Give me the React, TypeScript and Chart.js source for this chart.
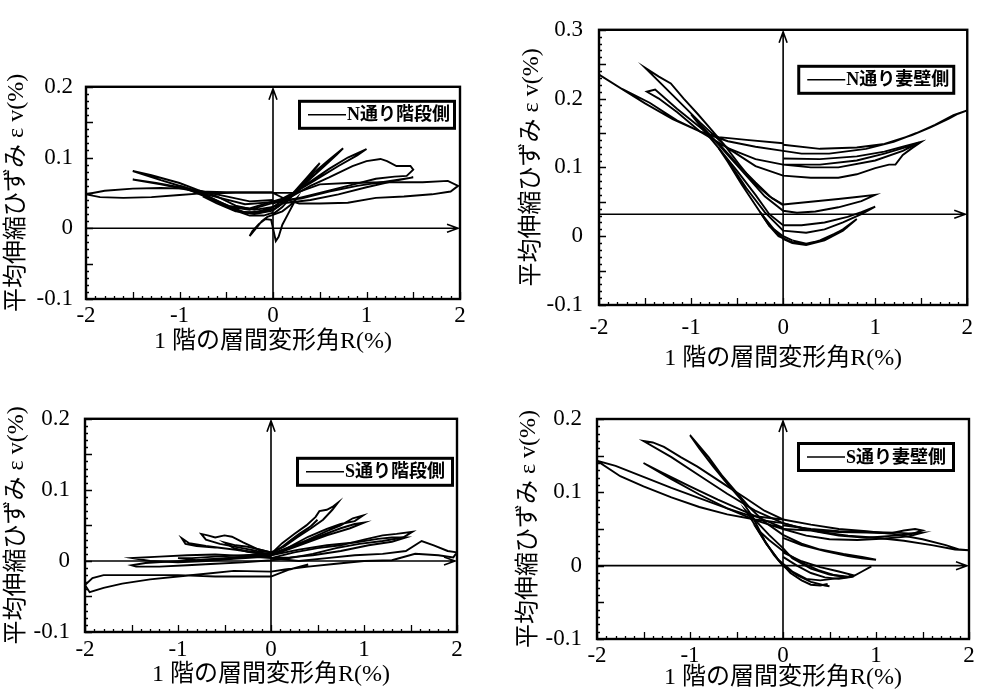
import React, { useEffect, useRef } from 'react';
import { Chart, registerables } from 'chart.js';

Chart.register(...registerables);

type Pt = [number, number];

// ---------- tick labels ----------
const X_TICKS = [-2, -1, 0, 1, 2];
const Y_TICKS_02 = [-0.1, 0, 0.1, 0.2];
const Y_TICKS_03 = [-0.1, 0, 0.1, 0.2, 0.3];

const X_TITLE = '1 階の層間変形角R(%)';
const Y_TITLE = '平均伸縮ひずみ ε v(%)';

// ---------- N通り階段側 ----------
const N_STAIR_R025: Pt[] = [[0.0,0.0],[0.03,-0.018],[0.06,-0.012],[0.1,0.005],[0.16,0.02],[0.22,0.035],[0.25,0.042],[0.18,0.032],[0.1,0.024],[0.02,0.02],[-0.06,0.016],[-0.12,0.01],[-0.18,0.0],[-0.25,-0.011],[-0.22,-0.004],[-0.15,0.006],[-0.08,0.013],[-0.02,0.012],[0.0,0.0]];
const N_STAIR_R05: Pt[] = [[0.0,0.02],[0.1,0.03],[0.2,0.045],[0.3,0.06],[0.4,0.075],[0.5,0.092],[0.45,0.085],[0.35,0.07],[0.25,0.055],[0.15,0.04],[0.05,0.03],[0.0,0.027],[-0.15,0.022],[-0.3,0.022],[-0.45,0.028],[-0.5,0.032],[-0.4,0.025],[-0.25,0.018],[-0.1,0.018],[0.0,0.022]];
const N_STAIR_R075: Pt[] = [[0.0,0.025],[0.15,0.04],[0.3,0.06],[0.45,0.08],[0.6,0.097],[0.75,0.113],[0.68,0.104],[0.55,0.088],[0.4,0.07],[0.25,0.05],[0.1,0.035],[0.0,0.03],[-0.2,0.022],[-0.4,0.024],[-0.6,0.035],[-0.75,0.045],[-0.6,0.038],[-0.4,0.025],[-0.2,0.02],[0.0,0.025]];
const N_STAIR_R1: Pt[] = [[0.0,0.03],[0.2,0.048],[0.4,0.066],[0.6,0.084],[0.8,0.1],[1.0,0.112],[0.9,0.103],[0.7,0.088],[0.5,0.072],[0.3,0.056],[0.1,0.042],[0.0,0.038],[-0.25,0.028],[-0.5,0.032],[-0.75,0.046],[-1.0,0.06],[-0.8,0.052],[-0.55,0.036],[-0.3,0.022],[-0.1,0.024],[0.0,0.03]];
const N_STAIR_R15A: Pt[] = [[0.0,0.035],[0.2,0.045],[0.4,0.06],[0.6,0.072],[0.85,0.088],[1.0,0.095],[1.15,0.098],[1.22,0.095],[1.32,0.088],[1.47,0.088],[1.5,0.083],[1.43,0.074],[1.3,0.073],[1.1,0.07],[0.8,0.06],[0.5,0.05],[0.25,0.042],[0.0,0.036],[-0.25,0.026],[-0.45,0.03],[-0.7,0.045],[-0.95,0.058],[-1.2,0.068],[-1.5,0.081],[-1.3,0.075],[-1.0,0.064],[-0.8,0.054],[-0.6,0.045],[-0.4,0.032],[-0.2,0.026],[0.0,0.03]];
const N_STAIR_R15B: Pt[] = [[0.0,0.038],[0.3,0.042],[0.6,0.052],[0.9,0.06],[1.2,0.066],[1.5,0.072],[1.3,0.067],[1.0,0.058],[0.7,0.048],[0.4,0.04],[0.15,0.036],[0.0,0.037],[-0.3,0.034],[-0.6,0.044],[-0.9,0.054],[-1.2,0.062],[-1.5,0.069],[-1.25,0.064],[-1.0,0.058],[-0.75,0.052],[-0.5,0.045],[-0.25,0.038],[0.0,0.04]];
const N_STAIR_R2: Pt[] = [[0.0,0.05],[0.25,0.05],[0.5,0.062],[0.8,0.064],[1.2,0.065],[1.6,0.065],[1.87,0.067],[1.98,0.06],[1.9,0.052],[1.7,0.048],[1.4,0.045],[1.1,0.043],[0.8,0.036],[0.5,0.035],[0.28,0.035],[0.15,0.04],[0.0,0.05],[-0.4,0.05],[-0.8,0.049],[-1.0,0.047],[-1.3,0.044],[-1.6,0.043],[-1.85,0.044],[-2.0,0.048],[-1.8,0.053],[-1.5,0.056],[-1.2,0.057],[-0.95,0.056],[-0.8,0.052],[-0.5,0.051],[0.0,0.051]];

// ---------- N通り妻壁側 ----------
const N_WALL_AXIS_LEVEL = 0.032;
const N_WALL_R2: Pt[] = [[0.0,0.133],[0.4,0.127],[0.8,0.129],[1.1,0.134],[1.4,0.147],[1.6,0.158],[1.8,0.171],[1.9,0.178],[2.0,0.183],[1.85,0.176],[1.65,0.162],[1.45,0.15],[1.2,0.137],[0.9,0.127],[0.5,0.12],[0.2,0.12],[0.0,0.124],[-0.3,0.13],[-0.6,0.138],[-0.9,0.152],[-1.2,0.17],[-1.5,0.193],[-1.8,0.218],[-2.0,0.235],[-1.75,0.214],[-1.45,0.194],[-1.15,0.168],[-0.9,0.152],[-0.7,0.144],[-0.4,0.14],[0.0,0.135]];
const N_WALL_R15A: Pt[] = [[0.0,0.113],[0.4,0.112],[0.8,0.116],[1.1,0.123],[1.3,0.13],[1.5,0.137],[1.4,0.128],[1.3,0.118],[1.22,0.104],[1.15,0.104],[1.0,0.099],[0.8,0.09],[0.6,0.085],[0.3,0.085],[0.0,0.088],[-0.3,0.102],[-0.6,0.128],[-0.9,0.165],[-1.2,0.205],[-1.5,0.245],[-1.35,0.232],[-1.22,0.222],[-1.08,0.2],[-0.93,0.178],[-0.78,0.155],[-0.64,0.133],[-0.48,0.105],[-0.32,0.078],[-0.15,0.058],[0.0,0.046]];
const N_WALL_R15B: Pt[] = [[0.0,0.104],[0.4,0.104],[0.8,0.11],[1.1,0.12],[1.3,0.128],[1.48,0.136],[1.3,0.124],[1.0,0.11],[0.6,0.1],[0.3,0.1],[0.0,0.104],[-0.3,0.112],[-0.6,0.128],[-0.9,0.152],[-1.15,0.18],[-1.35,0.2],[-1.48,0.21],[-1.39,0.213],[-1.15,0.185],[-0.9,0.158],[-0.7,0.135],[-0.5,0.105],[-0.3,0.078],[-0.12,0.055],[0.0,0.045]];
const N_WALL_R1A: Pt[] = [[0.0,0.046],[0.3,0.05],[0.6,0.054],[0.8,0.057],[1.0,0.06],[0.85,0.051],[0.6,0.042],[0.35,0.036],[0.15,0.034],[0.0,0.037],[-0.2,0.058],[-0.4,0.088],[-0.6,0.118],[-0.8,0.148],[-1.0,0.177],[-0.85,0.152],[-0.7,0.128],[-0.5,0.095],[-0.3,0.06],[-0.15,0.032],[0.0,0.016]];
const N_WALL_R1B: Pt[] = [[0.0,0.016],[0.2,0.016],[0.45,0.02],[0.7,0.028],[0.85,0.035],[1.0,0.043],[0.85,0.032],[0.65,0.02],[0.45,0.01],[0.25,0.005],[0.0,0.008],[-0.2,0.035],[-0.4,0.07],[-0.55,0.1],[-0.7,0.128],[-0.6,0.108],[-0.45,0.075],[-0.3,0.045],[-0.15,0.015],[0.0,0.0],[0.1,-0.006]];
const N_WALL_R05: Pt[] = [[0.1,-0.006],[0.25,-0.011],[0.45,-0.005],[0.65,0.01],[0.8,0.025],[0.65,0.008],[0.45,-0.006],[0.25,-0.013],[0.1,-0.01],[0.0,-0.004],[-0.1,0.01],[-0.25,0.035],[-0.15,0.015],[-0.05,0.0],[0.1,-0.009],[0.25,-0.012],[0.4,-0.006],[0.55,0.003],[0.7,0.013]];

// ---------- S通り階段側 ----------
const S_STAIR_R2: Pt[] = [[0.0,0.004],[0.3,0.0],[0.6,0.004],[0.9,0.008],[1.2,0.01],[1.45,0.014],[1.62,0.028],[1.75,0.022],[1.9,0.014],[2.0,0.012],[1.96,0.005],[1.8,0.008],[1.55,0.01],[1.3,0.001],[1.0,0.0],[0.7,-0.004],[0.4,-0.008],[0.15,-0.012],[0.0,-0.015],[-0.4,-0.014],[-0.7,-0.018],[-1.0,-0.022],[-1.3,-0.026],[-1.6,-0.032],[-1.8,-0.038],[-1.95,-0.044],[-2.0,-0.034],[-1.92,-0.024],[-1.8,-0.02],[-1.4,-0.02],[-1.0,-0.02],[-0.6,-0.022],[-0.3,-0.022],[0.0,-0.022],[0.2,-0.012],[0.4,-0.005]];
const S_STAIR_R15A: Pt[] = [[0.0,0.004],[0.25,0.012],[0.5,0.018],[0.75,0.022],[1.0,0.03],[1.2,0.036],[1.35,0.038],[1.52,0.041],[1.42,0.033],[1.2,0.028],[0.95,0.024],[0.7,0.018],[0.45,0.01],[0.2,0.004],[0.0,0.001],[-0.3,-0.002],[-0.6,-0.004],[-0.9,-0.006],[-1.2,-0.008],[-1.45,-0.008],[-1.5,-0.006],[-1.35,-0.003],[-1.1,-0.001],[-0.8,0.001],[-0.5,0.004],[-0.2,0.006],[0.0,0.008]];
const S_STAIR_R15B: Pt[] = [[0.0,0.008],[0.3,0.016],[0.6,0.022],[0.9,0.026],[1.15,0.031],[1.3,0.033],[1.45,0.033],[1.3,0.027],[1.05,0.022],[0.75,0.014],[0.45,0.008],[0.2,0.005],[0.0,0.004],[-0.3,0.007],[-0.6,0.009],[-0.9,0.008],[-1.2,0.006],[-1.49,0.004],[-1.3,0.0],[-1.0,-0.002],[-0.7,0.0],[-0.4,0.003],[-0.15,0.005],[0.0,0.006]];
const S_STAIR_R1A: Pt[] = [[0.0,0.008],[0.2,0.018],[0.4,0.03],[0.6,0.042],[0.75,0.05],[0.88,0.06],[0.99,0.064],[0.9,0.056],[0.75,0.052],[0.6,0.045],[0.4,0.034],[0.2,0.02],[0.05,0.01],[0.0,0.008],[-0.2,0.012],[-0.45,0.017],[-0.7,0.021],[-0.88,0.025],[-0.96,0.032],[-0.92,0.024],[-0.8,0.021],[-0.6,0.019],[-0.4,0.016],[-0.2,0.013],[0.0,0.01]];
const S_STAIR_R1B: Pt[] = [[0.0,0.01],[0.25,0.022],[0.5,0.034],[0.75,0.046],[0.9,0.052],[1.0,0.054],[0.85,0.046],[0.6,0.036],[0.35,0.024],[0.1,0.012],[0.0,0.01],[-0.3,0.008],[-0.6,0.006],[-0.85,0.004],[-1.0,0.004],[-0.8,0.001],[-0.5,0.003],[-0.2,0.006],[0.0,0.008]];
const S_STAIR_R075: Pt[] = [[0.0,0.01],[0.12,0.025],[0.25,0.038],[0.38,0.05],[0.48,0.062],[0.52,0.07],[0.6,0.072],[0.66,0.076],[0.72,0.082],[0.66,0.072],[0.56,0.058],[0.42,0.045],[0.28,0.033],[0.14,0.02],[0.0,0.012],[-0.15,0.017],[-0.3,0.026],[-0.42,0.034],[-0.5,0.036],[-0.6,0.033],[-0.68,0.036],[-0.75,0.038],[-0.7,0.03],[-0.55,0.024],[-0.35,0.019],[-0.15,0.014],[0.0,0.012]];
const S_STAIR_R05: Pt[] = [[0.0,0.01],[0.1,0.018],[0.2,0.028],[0.3,0.038],[0.42,0.048],[0.5,0.058],[0.44,0.05],[0.32,0.038],[0.18,0.025],[0.05,0.014],[0.0,0.012],[-0.12,0.016],[-0.25,0.02],[-0.38,0.022],[-0.5,0.026],[-0.4,0.018],[-0.25,0.013],[-0.1,0.01],[0.0,0.009]];

// ---------- S通り妻壁側 ----------
const S_WALL_R2: Pt[] = [[0.0,0.063],[0.3,0.056],[0.6,0.05],[0.9,0.047],[1.2,0.043],[1.5,0.036],[1.75,0.028],[1.9,0.022],[2.0,0.021],[1.85,0.022],[1.6,0.028],[1.3,0.034],[1.0,0.038],[0.7,0.041],[0.4,0.046],[0.15,0.053],[0.0,0.058],[-0.3,0.063],[-0.6,0.07],[-0.9,0.08],[-1.2,0.093],[-1.5,0.108],[-1.75,0.122],[-2.0,0.143],[-1.8,0.136],[-1.5,0.121],[-1.2,0.106],[-0.9,0.092],[-0.6,0.078],[-0.35,0.068],[0.0,0.063]];
const S_WALL_R15A: Pt[] = [[0.0,0.05],[0.3,0.048],[0.6,0.046],[0.9,0.045],[1.15,0.044],[1.3,0.048],[1.42,0.05],[1.5,0.048],[1.38,0.043],[1.2,0.041],[0.9,0.038],[0.6,0.041],[0.3,0.048],[0.0,0.058],[-0.3,0.075],[-0.6,0.098],[-0.9,0.123],[-1.2,0.148],[-1.5,0.17],[-1.4,0.168],[-1.28,0.162],[-1.1,0.148],[-0.92,0.135],[-0.74,0.12],[-0.56,0.105],[-0.4,0.092],[-0.2,0.075],[0.0,0.063]];
const S_WALL_R15B: Pt[] = [[0.0,0.055],[0.3,0.05],[0.6,0.047],[0.9,0.046],[1.2,0.045],[1.35,0.044],[1.5,0.045],[1.35,0.04],[1.1,0.037],[0.8,0.035],[0.5,0.036],[0.25,0.041],[0.0,0.05],[-0.3,0.062],[-0.6,0.078],[-0.9,0.097],[-1.2,0.118],[-1.5,0.14],[-1.3,0.127],[-1.0,0.108],[-0.7,0.09],[-0.45,0.076],[-0.2,0.062],[0.0,0.052]];
const S_WALL_R1: Pt[] = [[0.0,0.038],[0.2,0.028],[0.45,0.02],[0.7,0.013],[0.85,0.01],[1.0,0.008],[0.85,0.012],[0.65,0.016],[0.4,0.022],[0.2,0.03],[0.0,0.042],[-0.2,0.06],[-0.35,0.078],[-0.5,0.1],[-0.65,0.122],[-0.8,0.148],[-0.9,0.163],[-1.0,0.178],[-0.9,0.16],[-0.75,0.135],[-0.6,0.112],[-0.45,0.09],[-0.32,0.065],[-0.2,0.035],[-0.1,0.015],[0.0,0.0],[0.15,-0.013],[0.3,-0.022],[0.45,-0.027],[0.5,-0.028]];
const S_WALL_R075: Pt[] = [[0.0,0.018],[0.2,0.006],[0.4,-0.002],[0.6,-0.008],[0.75,-0.013],[0.7,-0.015],[0.5,-0.012],[0.3,-0.004],[0.1,0.01],[0.0,0.024],[-0.15,0.042],[-0.3,0.062],[-0.4,0.075],[-0.3,0.055],[-0.18,0.03],[-0.05,0.008],[0.1,-0.008],[0.25,-0.018],[0.4,-0.02],[0.6,-0.017],[0.75,-0.015],[0.85,-0.008],[0.95,-0.001]];
const S_WALL_R05: Pt[] = [[0.0,0.012],[0.15,0.0],[0.3,-0.01],[0.45,-0.016],[0.6,-0.018],[0.7,-0.016],[0.55,-0.013],[0.38,-0.006],[0.2,0.004],[0.0,0.02],[-0.15,0.035],[-0.28,0.05],[-0.18,0.03],[-0.05,0.008],[0.08,-0.01],[0.2,-0.02],[0.3,-0.026],[0.4,-0.027],[0.48,-0.025]];

// ---------- layout ----------
type PanelCfg = {
  legend: string;
  series: Pt[][];
  yMin: number;
  yMax: number;
  yTicks: number[];
  hLine: number;
  box: { left: number; top: number; width: number; height: number };
  pad: { top: number; right: number; bottom: number };
  yW: number;
  xH: number;
  yTitlePad: number;
  xTickPad: number;
  yTickPad: number;
  legendRight: number;
  legendTop: number;
};

const PANELS: PanelCfg[] = [
  {
    legend: 'N通り階段側',
    series: [N_STAIR_R025, N_STAIR_R05, N_STAIR_R075, N_STAIR_R1, N_STAIR_R15A, N_STAIR_R15B, N_STAIR_R2],
    yMin: -0.1, yMax: 0.2, yTicks: Y_TICKS_02, hLine: 0,
    box: { left: 0, top: 60, width: 480, height: 305 },
    pad: { top: 23, right: 20, bottom: 9 }, yW: 86, xH: 57,
    yTitlePad: 2, xTickPad: 3, yTickPad: 13, legendRight: 4, legendTop: 13,
  },
  {
    legend: 'N通り妻壁側',
    series: [N_WALL_R2, N_WALL_R15A, N_WALL_R15B, N_WALL_R1A, N_WALL_R1B, N_WALL_R05],
    yMin: -0.1, yMax: 0.3, yTicks: Y_TICKS_03, hLine: N_WALL_AXIS_LEVEL,
    box: { left: 490, top: 0, width: 492, height: 380 },
    pad: { top: 17, right: 10, bottom: 7 }, yW: 109, xH: 68,
    yTitlePad: 27, xTickPad: 9, yTickPad: 16, legendRight: 12, legendTop: 35,
  },
  {
    legend: 'S通り階段側',
    series: [S_STAIR_R2, S_STAIR_R15A, S_STAIR_R15B, S_STAIR_R1A, S_STAIR_R1B, S_STAIR_R075, S_STAIR_R05],
    yMin: -0.1, yMax: 0.2, yTicks: Y_TICKS_02, hLine: 0,
    box: { left: 0, top: 390, width: 480, height: 303 },
    pad: { top: 24, right: 23, bottom: 4 }, yW: 85, xH: 57,
    yTitlePad: 2, xTickPad: 4, yTickPad: 15, legendRight: 3, legendTop: 38,
  },
  {
    legend: 'S通り妻壁側',
    series: [S_WALL_R2, S_WALL_R15A, S_WALL_R15B, S_WALL_R1, S_WALL_R075, S_WALL_R05],
    yMin: -0.1, yMax: 0.2, yTicks: Y_TICKS_02, hLine: 0,
    box: { left: 490, top: 390, width: 492, height: 303 },
    pad: { top: 29, right: 13, bottom: 1 }, yW: 107, xH: 53,
    yTitlePad: 24, xTickPad: 3, yTickPad: 15, legendRight: 14, legendTop: 23,
  },
];

const TICK_FONT = { family: '"Liberation Serif", "Times New Roman", serif', size: 23 };
const TITLE_FONT = { family: '"Liberation Serif", "Noto Sans CJK JP", serif', size: 24 };

const fmt = (v: number) => {
  const r = Math.round(v * 10) / 10;
  return r === 0 ? '0' : String(r);
};

const decoPlugin = {
  id: 'deco',
  afterDraw(chart: any, _args: any, o: any) {
    const { ctx, chartArea: a } = chart;
    const xs = chart.scales.x;
    const ys = chart.scales.y;
    ctx.save();
    ctx.strokeStyle = '#000';
    ctx.fillStyle = '#000';
    // inward ticks
    ctx.lineWidth = 1.3;
    ctx.beginPath();
    const yLo = Math.round(ys.min * 100);
    const yHi = Math.round(ys.max * 100);
    for (let i = yLo; i <= yHi; i++) {
      const py = Math.round(ys.getPixelForValue(i / 100)) + 0.5;
      const len = i % 5 === 0 ? 7 : 3;
      ctx.moveTo(a.left, py);
      ctx.lineTo(a.left + len, py);
    }
    for (let i = -20; i <= 20; i++) {
      const px = Math.round(xs.getPixelForValue(i / 10)) + 0.5;
      const len = i % 5 === 0 ? 7 : 3;
      ctx.moveTo(px, a.bottom);
      ctx.lineTo(px, a.bottom - len);
    }
    ctx.stroke();
    // frame
    ctx.lineWidth = 2.4;
    ctx.strokeRect(a.left, a.top, a.right - a.left, a.bottom - a.top);
    // axis arrows
    ctx.lineWidth = 1.6;
    const x0 = xs.getPixelForValue(0);
    const y0 = ys.getPixelForValue(o.hLine);
    ctx.beginPath();
    ctx.moveTo(x0, a.bottom);
    ctx.lineTo(x0, a.top + 2);
    ctx.moveTo(x0 - 4, a.top + 13);
    ctx.lineTo(x0, a.top + 2);
    ctx.lineTo(x0 + 4, a.top + 13);
    ctx.moveTo(a.left, y0);
    ctx.lineTo(a.right - 2, y0);
    ctx.moveTo(a.right - 13, y0 - 4);
    ctx.lineTo(a.right - 2, y0);
    ctx.lineTo(a.right - 13, y0 + 4);
    ctx.stroke();
    // legend box
    const bw = 158;
    const bh = 30;
    const bx = a.right - o.legendRight - bw;
    const by = a.top + o.legendTop;
    ctx.fillStyle = '#fff';
    ctx.fillRect(bx, by, bw, bh);
    ctx.lineWidth = 3;
    ctx.strokeRect(bx + 1.5, by + 1.5, bw - 3, bh - 3);
    ctx.lineWidth = 1.6;
    const my = by + bh / 2;
    ctx.beginPath();
    ctx.moveTo(bx + 10, my);
    ctx.lineTo(bx + 48, my);
    ctx.stroke();
    ctx.fillStyle = '#000';
    ctx.font = 'bold 18px "Liberation Serif", "Noto Sans CJK JP", sans-serif';
    ctx.textBaseline = 'middle';
    ctx.textAlign = 'left';
    ctx.fillText(o.legend, bx + 49, my + 1);
    ctx.restore();
  },
};

function Panel({ p }: { p: PanelCfg }) {
  const ref = useRef<HTMLCanvasElement | null>(null);
  useEffect(() => {
    if (!ref.current) return;
    const chart = new Chart(ref.current, {
      type: 'scatter',
      data: {
        datasets: p.series.map((s) => ({
          data: s.map(([x, y]) => ({ x, y })),
          showLine: true,
          borderColor: '#000',
          backgroundColor: '#000',
          borderWidth: 1.9,
          pointRadius: 0,
          pointHoverRadius: 0,
          fill: false,
          tension: 0,
        })),
      },
      options: {
        responsive: false,
        animation: false,
        devicePixelRatio: 1,
        events: [],
        layout: { padding: { left: 0, top: p.pad.top, right: p.pad.right, bottom: p.pad.bottom } },
        plugins: {
          legend: { display: false },
          tooltip: { enabled: false },
          deco: { legend: p.legend, hLine: p.hLine, legendRight: p.legendRight, legendTop: p.legendTop },
        } as any,
        scales: {
          x: {
            type: 'linear',
            position: 'bottom',
            min: -2,
            max: 2,
            afterBuildTicks: (s: any) => {
              s.ticks = X_TICKS.map((v) => ({ value: v }));
            },
            afterFit: (s: any) => {
              s.height = p.xH;
            },
            ticks: {
              color: '#000',
              font: TICK_FONT,
              padding: p.xTickPad,
              maxRotation: 0,
              autoSkip: false,
              callback: (v: any) => fmt(Number(v)),
            },
            grid: { display: false, drawTicks: false },
            border: { display: false },
            title: { display: true, text: X_TITLE, color: '#000', font: TITLE_FONT, padding: 0 },
          },
          y: {
            type: 'linear',
            position: 'left',
            min: p.yMin,
            max: p.yMax,
            afterBuildTicks: (s: any) => {
              s.ticks = p.yTicks.map((v) => ({ value: v }));
            },
            afterFit: (s: any) => {
              s.width = p.yW;
            },
            ticks: {
              color: '#000',
              font: TICK_FONT,
              padding: p.yTickPad,
              autoSkip: false,
              callback: (v: any) => fmt(Number(v)),
            },
            grid: { display: false, drawTicks: false },
            border: { display: false },
            title: {
              display: true,
              text: Y_TITLE,
              color: '#000',
              font: TITLE_FONT,
              padding: { top: p.yTitlePad, bottom: 0 },
            },
          },
        },
      } as any,
      plugins: [decoPlugin],
    });
    return () => chart.destroy();
  }, [p]);
  return (
    <canvas
      ref={ref}
      width={p.box.width}
      height={p.box.height}
      style={{
        position: 'absolute',
        left: p.box.left,
        top: p.box.top,
        width: p.box.width,
        height: p.box.height,
      }}
    />
  );
}

export default function App() {
  return (
    <div style={{ position: 'absolute', left: 0, top: 0, width: 982, height: 693, background: '#fff' }}>
      {PANELS.map((p, i) => (
        <Panel key={i} p={p} />
      ))}
    </div>
  );
}
